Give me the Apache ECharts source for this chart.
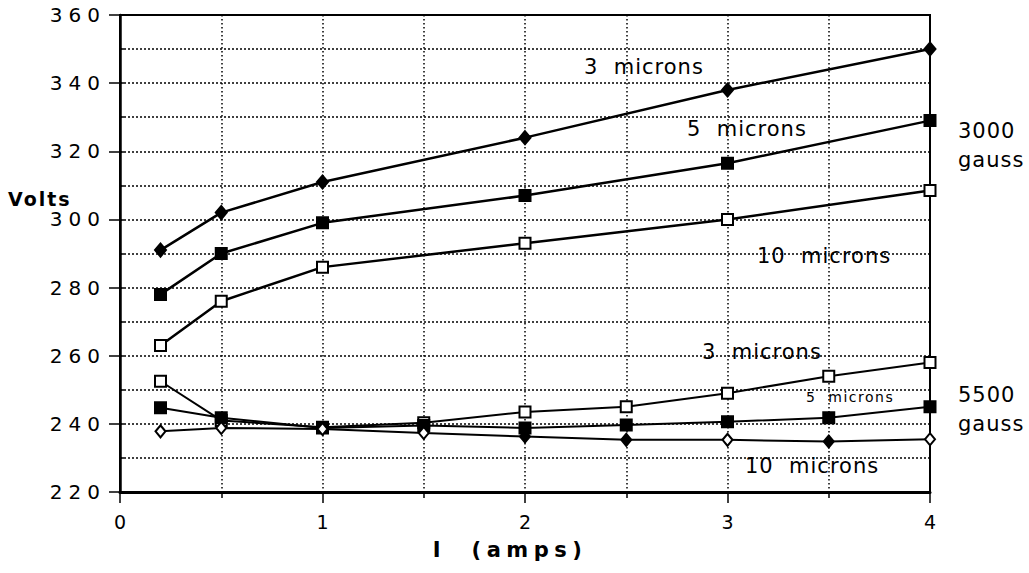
<!DOCTYPE html>
<html><head><meta charset="utf-8">
<script src="https://cdn.jsdelivr.net/npm/echarts@6/dist/echarts.min.js"></script>
<style>html,body{margin:0;padding:0;background:#fff}#c{width:1029px;height:573px}</style>
</head><body><div id="c"></div>
<script>
// ---- data ----
const current3000 = [0.2, 0.5, 1, 2, 3, 4];
const volts3000_3um  = [291, 302, 311, 324, 338, 350];
const volts3000_5um  = [278, 290, 299, 307, 316.5, 329];
const volts3000_10um = [263, 276, 286, 293, 300, 308.5];

const current5500 = [0.2, 0.5, 1, 1.5, 2, 2.5, 3, 3.5, 4];
const volts5500_3um  = [252.5, 241, 239, 240.3, 243.5, 245, 249, 254, 258];
const volts5500_5um  = [244.7, 241.8, 238.8, 239.5, 238.8, 239.7, 240.6, 241.8, 245];
const volts5500_10um = [237.8, 238.8, 238.5, 237.3, 236.3, 235.3, 235.3, 234.8, 235.5];
const diamondFilled5500 = [false, false, false, false, true, true, false, true, false];

const xTicks = [0, 1, 2, 3, 4];
const yTicks = [220, 240, 260, 280, 300, 320, 340, 360];

const pairs = (xs, ys) => xs.map((x, i) => [x, ys[i]]);
const FONT = 'DejaVu Sans';

const chart = echarts.init(document.getElementById('c'), null, {renderer: 'svg'});

const hDot = {color: '#000', width: 1.5, type: [2, 2]};
const vDot = {color: '#000', width: 1.5, type: [1.5, 2.5]};

function lineSeries(name, xs, ys, symbol, filled, width) {
  return {
    name, type: 'line', data: pairs(xs, ys), symbol, symbolSize: symbol === 'diamond' ? [11, 13] : 11,
    showSymbol: true, lineStyle: {color: '#000', width},
    itemStyle: {color: filled ? '#000' : '#fff', borderColor: '#000', borderWidth: 2},
    z: 5
  };
}

const diamond5500 = lineSeries('10 microns 5500 gauss', current5500, volts5500_10um, 'diamond', false, 2);
diamond5500.data = current5500.map((x, i) => ({
  value: [x, volts5500_10um[i]],
  itemStyle: {color: diamondFilled5500[i] ? '#000' : '#fff'}
}));
diamond5500.symbolSize = [10, 12];

const annotations = [
  {t: '3  microns', x: 584, y: 67, s: 21},
  {t: '5  microns', x: 687, y: 129, s: 21},
  {t: '3000', x: 958, y: 131, s: 21},
  {t: 'gauss', x: 958, y: 160, s: 21},
  {t: '10  microns', x: 757, y: 256, s: 21},
  {t: '3  microns', x: 702, y: 352, s: 21},
  {t: '5  microns', x: 806, y: 397, s: 14},
  {t: '5500', x: 958, y: 395, s: 21},
  {t: 'gauss', x: 958, y: 424, s: 21},
  {t: '10  microns', x: 745, y: 466, s: 21}
];

const graphics = annotations.map(a => ({
  type: 'text', x: a.x, y: a.y, z: 10,
  style: {text: a.t, font: a.s + 'px ' + FONT, fill: '#000', align: 'left', verticalAlign: 'middle',
    textAlign: 'left', textVerticalAlign: 'middle'}
}));
// y-axis title, placed like the original (beside the 290 V level)
graphics.push({
  type: 'text', x: 8, y: 199, z: 10,
  style: {text: 'Volts', font: 'bold 19px ' + FONT, fill: '#000', align: 'left', verticalAlign: 'middle',
    textAlign: 'left', textVerticalAlign: 'middle'}
});

chart.setOption({
  animation: false,
  backgroundColor: '#fff',
  grid: {left: 120, right: 99, top: 15, bottom: 81, show: true, borderColor: '#000', borderWidth: 2, backgroundColor: 'transparent'},
  xAxis: [{
    type: 'value', min: 0, max: 4, interval: 1,
    name: 'I  (amps)', nameLocation: 'middle', nameGap: 47, nameMoveOverlap: false,
    nameTextStyle: {fontFamily: FONT, fontWeight: 'bold', fontSize: 21, color: '#000', padding: [0, 30, 0, 0]},
    axisLine: {show: true, lineStyle: {color: '#000', width: 3}},
    axisTick: {show: true, length: 11, lineStyle: {color: '#000', width: 1.5}},
    minorTick: {show: true, splitNumber: 2, length: 6, lineStyle: {color: '#000', width: 1.5}},
    axisLabel: {fontFamily: FONT, fontSize: 19, color: '#000', margin: 20,
      formatter: v => xTicks.includes(v) ? String(v) : ''},
    splitLine: {show: true, lineStyle: vDot},
    minorSplitLine: {show: true, lineStyle: vDot}
  }],
  yAxis: [{
    type: 'value', min: 220, max: 360, interval: 20,
    axisLine: {show: true, lineStyle: {color: '#000', width: 2.5}},
    axisTick: {show: true, length: 11, lineStyle: {color: '#000', width: 1.5}},
    minorTick: {show: false, splitNumber: 2},
    axisLabel: {fontFamily: FONT, fontSize: 20, color: '#000', margin: 14,
      formatter: v => yTicks.includes(v) ? String(v) : ''},
    splitLine: {show: true, lineStyle: hDot},
    minorSplitLine: {show: true, lineStyle: hDot}
  }, {
    type: 'value', min: 220, max: 360, interval: 10, position: 'left',
    axisLine: {show: false}, axisLabel: {show: false}, splitLine: {show: false},
    axisTick: {show: true, inside: true, length: 4, lineStyle: {color: '#000', width: 1.5}}
  }],
  series: [
    lineSeries('3 microns 3000 gauss', current3000, volts3000_3um, 'diamond', true, 2.5),
    lineSeries('5 microns 3000 gauss', current3000, volts3000_5um, 'rect', true, 2.5),
    lineSeries('10 microns 3000 gauss', current3000, volts3000_10um, 'rect', false, 2.5),
    lineSeries('3 microns 5500 gauss', current5500, volts5500_3um, 'rect', false, 2),
    lineSeries('5 microns 5500 gauss', current5500, volts5500_5um, 'rect', true, 2),
    diamond5500
  ],
  graphic: graphics
});

// wider letter spacing of the original typesetting
document.querySelectorAll('#c svg text').forEach(t => {
  const s = t.textContent.trim();
  if (/^\d{3}$/.test(s)) t.setAttribute('letter-spacing', '6');
  else if (s === 'Volts') t.setAttribute('letter-spacing', '2');
  else if (s.indexOf('amps') >= 0) t.setAttribute('letter-spacing', '5.5');
  else if (s.indexOf('microns') >= 0 || s === 'gauss' || s === '3000' || s === '5500')
    t.setAttribute('letter-spacing', /14px/.test(t.getAttribute('style') || '') ? '1.5' : '1');
});
</script></body></html>
